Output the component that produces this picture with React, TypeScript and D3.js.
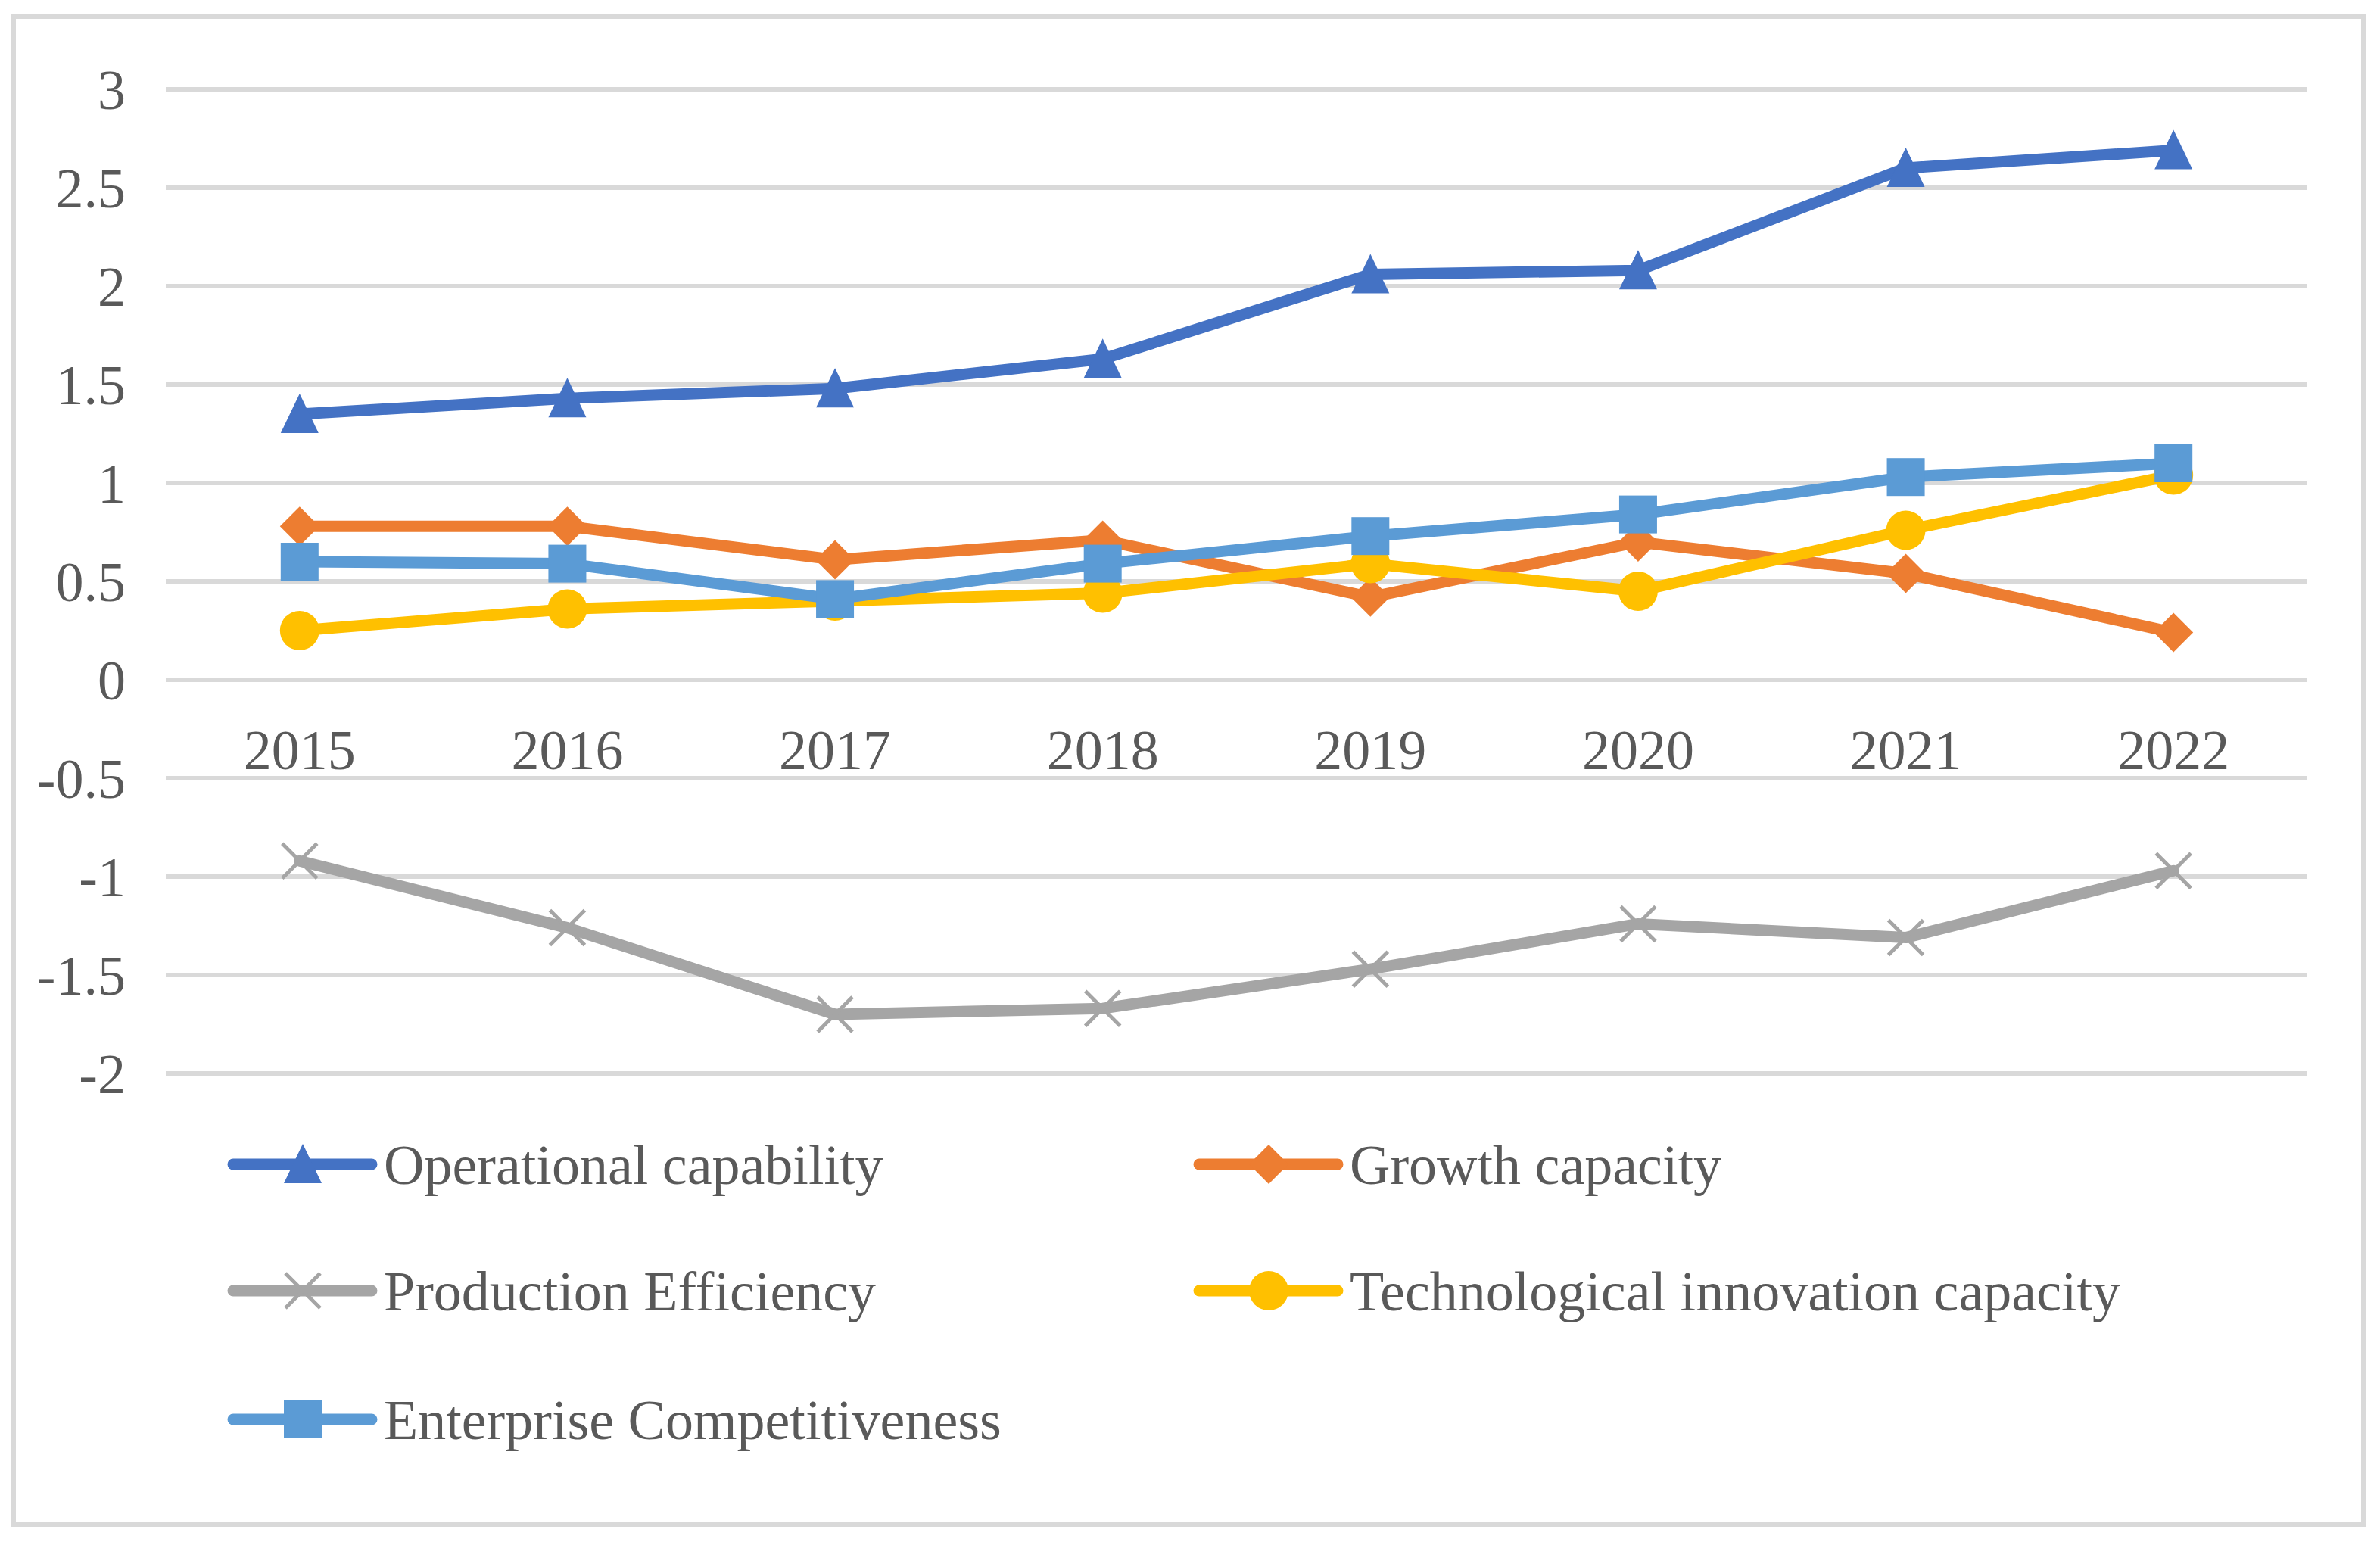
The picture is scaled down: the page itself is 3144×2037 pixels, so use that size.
import React, { useRef, useEffect } from "react";
import * as d3 from "d3";

const years = ["2015", "2016", "2017", "2018", "2019", "2020", "2021", "2022"];
const yTicks = [-2, -1.5, -1, -0.5, 0, 0.5, 1, 1.5, 2, 2.5, 3];
const yTickLabels = ["-2", "-1.5", "-1", "-0.5", "0", "0.5", "1", "1.5", "2", "2.5", "3"];

const operational = [1.35, 1.43, 1.48, 1.63, 2.06, 2.08, 2.6, 2.69];
const growth = [0.78, 0.78, 0.61, 0.71, 0.42, 0.7, 0.54, 0.24];
const production = [-0.92, -1.26, -1.7, -1.67, -1.47, -1.24, -1.31, -0.97];
const technological = [0.25, 0.36, 0.4, 0.44, 0.59, 0.45, 0.76, 1.04];
const competitiveness = [0.6, 0.59, 0.41, 0.59, 0.73, 0.84, 1.03, 1.1];

type MarkerKind = "triangle" | "diamond" | "cross" | "circle" | "square";

interface Series {
  name: string;
  values: number[];
  color: string;
  marker: MarkerKind;
}

const series: Series[] = [
  { name: "Operational capability", values: operational, color: "#4472C4", marker: "triangle" },
  { name: "Growth capacity", values: growth, color: "#ED7D31", marker: "diamond" },
  { name: "Production Efficiency", values: production, color: "#A5A5A5", marker: "cross" },
  { name: "Technological innovation capacity", values: technological, color: "#FFC000", marker: "circle" },
  { name: "Enterprise Competitiveness", values: competitiveness, color: "#5B9BD5", marker: "square" },
];

const WIDTH = 3144;
const HEIGHT = 2037;
const FONT = "Liberation Serif, Times New Roman, serif";
const FONT_SIZE = 74;
const TEXT_COLOR = "#595959";
const GRID_COLOR = "#D9D9D9";

// draw one marker centred at (x, y)
function drawMarker(
  g: d3.Selection<SVGGElement, unknown, null, undefined>,
  kind: MarkerKind,
  x: number,
  y: number,
  color: string
) {
  if (kind === "triangle") {
    g.append("path")
      .attr("d", `M${x},${y - 27} L${x + 25},${y + 25} L${x - 25},${y + 25} Z`)
      .attr("fill", color);
  } else if (kind === "diamond") {
    g.append("path")
      .attr("d", `M${x},${y - 26} L${x + 26},${y} L${x},${y + 26} L${x - 26},${y} Z`)
      .attr("fill", color);
  } else if (kind === "circle") {
    g.append("circle").attr("cx", x).attr("cy", y).attr("r", 26).attr("fill", color);
  } else if (kind === "square") {
    g.append("rect")
      .attr("x", x - 25)
      .attr("y", y - 25)
      .attr("width", 50)
      .attr("height", 50)
      .attr("fill", color);
  } else {
    g.append("path")
      .attr("d", `M${x - 23},${y - 23} L${x + 23},${y + 23} M${x + 23},${y - 23} L${x - 23},${y + 23}`)
      .attr("stroke", color)
      .attr("stroke-width", 5)
      .attr("fill", "none");
  }
}

const App: React.FC = () => {
  const svgRef = useRef<SVGSVGElement | null>(null);

  useEffect(() => {
    const svg = d3.select(svgRef.current);
    svg.selectAll("*").remove();

    // outer frame
    svg
      .append("rect")
      .attr("x", 18)
      .attr("y", 22)
      .attr("width", 3104)
      .attr("height", 1992)
      .attr("fill", "white")
      .attr("stroke", GRID_COLOR)
      .attr("stroke-width", 6);

    const xScale = d3.scaleBand<string>().domain(years).range([219, 3048]);
    const yScale = d3.scaleLinear().domain([-2, 3]).range([1418, 118]);
    const cx = (i: number) => xScale(years[i])! + xScale.bandwidth() / 2;

    // gridlines
    const grid = svg.append("g");
    yTicks.forEach((t) => {
      grid
        .append("line")
        .attr("x1", 219)
        .attr("x2", 3048)
        .attr("y1", yScale(t))
        .attr("y2", yScale(t))
        .attr("stroke", GRID_COLOR)
        .attr("stroke-width", 6);
    });

    // y tick labels
    const yLabels = svg.append("g");
    yTicks.forEach((t, i) => {
      yLabels
        .append("text")
        .attr("x", 166)
        .attr("y", yScale(t))
        .attr("dy", "0.35em")
        .attr("text-anchor", "end")
        .attr("font-family", FONT)
        .attr("font-size", FONT_SIZE)
        .attr("fill", TEXT_COLOR)
        .text(yTickLabels[i]);
    });

    // x category labels, just below the zero line
    const xLabels = svg.append("g");
    years.forEach((yr, i) => {
      xLabels
        .append("text")
        .attr("x", cx(i))
        .attr("y", yScale(0) + 92)
        .attr("dy", "0.35em")
        .attr("text-anchor", "middle")
        .attr("font-family", FONT)
        .attr("font-size", FONT_SIZE)
        .attr("fill", TEXT_COLOR)
        .text(yr);
    });

    const line = d3
      .line<number>()
      .x((_, i) => cx(i))
      .y((d) => yScale(d));

    // series lines and markers
    series.forEach((s) => {
      const g = svg.append("g");
      g.append("path")
        .datum(s.values)
        .attr("fill", "none")
        .attr("stroke", s.color)
        .attr("stroke-width", 15)
        .attr("stroke-linejoin", "round")
        .attr("stroke-linecap", "round")
        .attr("d", line);
      s.values.forEach((v, i) => drawMarker(g, s.marker, cx(i), yScale(v), s.color));
    });

    // legend
    const legendCols = [308, 1584];
    const legendRows = [1538, 1705, 1875];
    const legend = svg.append("g");
    series.forEach((s, i) => {
      const lx = legendCols[i % 2];
      const ly = legendRows[Math.floor(i / 2)];
      const g = legend.append("g");
      g.append("line")
        .attr("x1", lx)
        .attr("x2", lx + 183)
        .attr("y1", ly)
        .attr("y2", ly)
        .attr("stroke", s.color)
        .attr("stroke-width", 15)
        .attr("stroke-linecap", "round");
      drawMarker(g, s.marker, lx + 92, ly, s.color);
      g.append("text")
        .attr("x", lx + 199)
        .attr("y", ly)
        .attr("dy", "0.35em")
        .attr("font-family", FONT)
        .attr("font-size", FONT_SIZE)
        .attr("fill", TEXT_COLOR)
        .text(s.name);
    });
  }, []);

  return (
    <svg
      ref={svgRef}
      width={WIDTH}
      height={HEIGHT}
      style={{ position: "absolute", left: 0, top: 0, background: "white" }}
    ></svg>
  );
};

export default App;
